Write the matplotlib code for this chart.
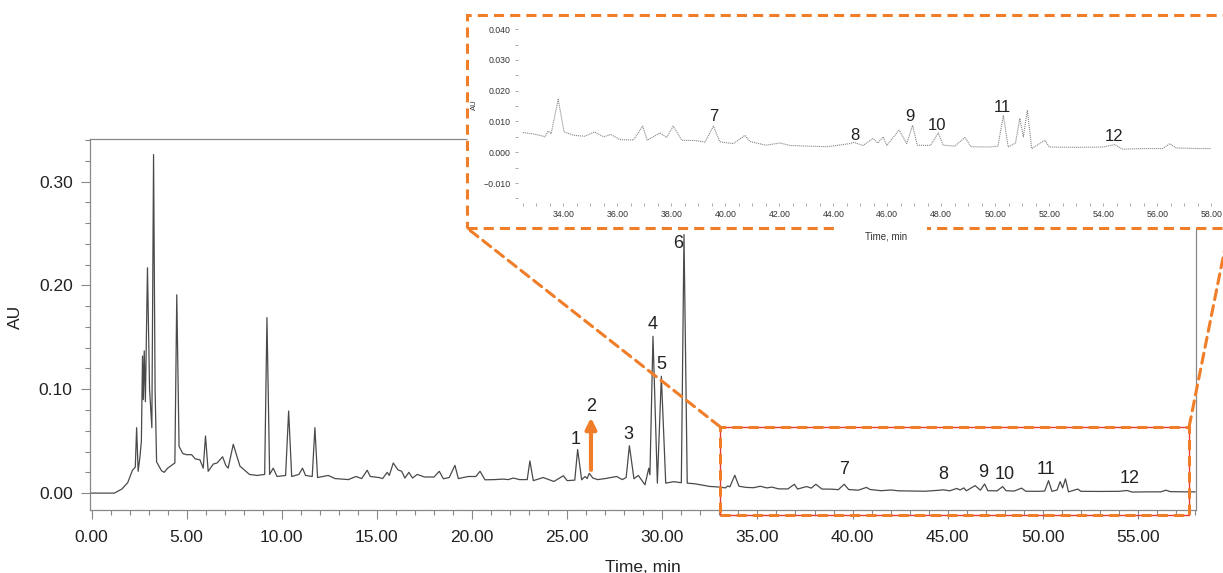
import numpy as np
import matplotlib.pyplot as plt
from matplotlib.patches import Rectangle, ConnectionPatch
from matplotlib.ticker import MultipleLocator, FuncFormatter

plt.rcParams['font.family'] = ['Liberation Sans', 'DejaVu Sans']

# chromatogram (time in min, absorbance in AU)
time_min = [0.0, 1.2, 1.6, 1.9, 2.15, 2.3, 2.37, 2.45, 2.54, 2.62, 2.68, 2.72, 2.77, 2.83, 2.94,
            3.05, 3.17, 3.26, 3.34, 3.42, 3.68, 3.82, 4.0, 4.38, 4.48, 4.6, 4.8, 5.0, 5.26, 5.45,
            5.7, 5.87, 5.99, 6.13, 6.4, 6.6, 6.89, 7.05, 7.18, 7.45, 7.8, 8.3, 8.7, 9.1, 9.22,
            9.36, 9.55, 9.75, 10.2, 10.36, 10.52, 10.9, 11.09, 11.25, 11.6, 11.74, 11.88, 12.44,
            12.8, 13.5, 13.9, 14.2, 14.49, 14.65, 15.1, 15.3, 15.54, 15.65, 15.86, 16.1, 16.3,
            16.47, 16.68, 16.87, 17.12, 17.5, 18.0, 18.28, 18.49, 18.8, 19.1, 19.28, 19.8, 20.2,
            20.42, 20.68, 21.2, 21.64, 21.9, 22.17, 22.5, 22.9, 23.04, 23.22, 23.74, 24.3, 24.8,
            25.0, 25.4, 25.55, 25.76, 25.94, 26.05, 26.16, 26.35, 26.6, 27.0, 27.3, 27.6, 27.9,
            28.1, 28.27, 28.51, 28.74, 29.09, 29.29, 29.35, 29.51, 29.74, 29.95, 30.18, 30.6,
            31.0, 31.14, 31.31, 31.7, 32.0, 32.5, 32.86, 33.14, 33.32, 33.44, 33.55, 33.81, 34.03,
            34.4, 34.8, 35.15, 35.5, 35.76, 36.1, 36.6, 36.94, 37.11, 37.58, 37.83, 38.07, 38.39,
            38.9, 39.25, 39.56, 39.8, 40.3, 40.73, 40.91, 41.5, 42.03, 42.4, 43.0, 43.8, 44.6,
            44.77, 45.1, 45.48, 45.65, 45.85, 45.98, 46.44, 46.72, 46.94, 47.11, 47.6, 47.89,
            48.07, 48.5, 48.88, 49.1, 49.8, 50.1, 50.3, 50.48, 50.75, 50.91, 51.04, 51.19, 51.35,
            51.84, 52.0, 53.0, 54.0, 54.43, 54.7, 55.5, 56.2, 56.47, 56.7, 57.5, 58.0]
absorb = [0.0, 0.0, 0.004, 0.010, 0.022, 0.025, 0.063, 0.021, 0.034, 0.050, 0.132, 0.090, 0.137,
          0.088, 0.217, 0.100, 0.063, 0.326, 0.100, 0.030, 0.0215, 0.020, 0.024, 0.029, 0.191,
          0.045, 0.038, 0.037, 0.037, 0.033, 0.032, 0.024, 0.055, 0.021, 0.028, 0.029, 0.035,
          0.027, 0.024, 0.047, 0.026, 0.018, 0.017, 0.018, 0.169, 0.018, 0.024, 0.016, 0.017,
          0.079, 0.016, 0.018, 0.024, 0.017, 0.016, 0.063, 0.015, 0.017, 0.014, 0.013, 0.016,
          0.014, 0.022, 0.016, 0.015, 0.014, 0.020, 0.017, 0.029, 0.0225, 0.021, 0.0145, 0.020,
          0.0145, 0.018, 0.0155, 0.0155, 0.021, 0.0138, 0.015, 0.0267, 0.014, 0.016, 0.016, 0.021,
          0.0128, 0.013, 0.0135, 0.013, 0.0145, 0.013, 0.013, 0.031, 0.012, 0.015, 0.0112, 0.0167,
          0.012, 0.0125, 0.042, 0.0128, 0.016, 0.014, 0.019, 0.0145, 0.013, 0.014, 0.015, 0.016,
          0.013, 0.015, 0.0456, 0.0138, 0.017, 0.008, 0.024, 0.0177, 0.151, 0.0096, 0.1125,
          0.0096, 0.011, 0.010, 0.249, 0.0096, 0.009, 0.008, 0.0064, 0.0060, 0.0055, 0.0050,
          0.0069, 0.0060, 0.0172, 0.0066, 0.0055, 0.0052, 0.0066, 0.0050, 0.0058, 0.0041, 0.0040,
          0.0085, 0.0039, 0.0063, 0.0048, 0.0085, 0.0039, 0.0038, 0.0033, 0.0085, 0.0034, 0.0028,
          0.0055, 0.0035, 0.0023, 0.0030, 0.0022, 0.0020, 0.0018, 0.0028, 0.0032, 0.0022, 0.0045,
          0.0030, 0.0050, 0.0022, 0.0072, 0.0028, 0.0088, 0.0023, 0.0022, 0.0063, 0.0023, 0.0020,
          0.0048, 0.0018, 0.0017, 0.0020, 0.0120, 0.0017, 0.0030, 0.0110, 0.0050, 0.0137, 0.0012,
          0.0039, 0.0017, 0.0016, 0.0017, 0.0025, 0.0010, 0.0012, 0.0012, 0.0028, 0.0014, 0.0012,
          0.0012]

peak_ids = ['1', '2', '3', '4', '5', '6', '7', '8', '9', '10', '11', '12']
label_t = [25.46, 26.25, 28.2, 29.51, 29.93, 30.83, 39.55, 44.76, 46.86, 47.97, 50.17, 54.54]
label_au = [0.0514, 0.0832, 0.0563, 0.1625, 0.124, 0.2404, 0.0225, 0.0177, 0.0196, 0.0177,
            0.0225, 0.0138]

inset_ids = ['7', '8', '9', '10', '11', '12']
inset_label_t = [39.56, 44.80, 46.84, 47.85, 50.26, 54.41]
inset_label_au = [0.0117, 0.0055, 0.0117, 0.0088, 0.0147, 0.0050]

arrow_t = 26.25
arrow_au = (0.0224, 0.0727)

zoom_t = (33.03, 57.69)
zoom_au = (-0.021, 0.064)

orange = '#F07D28'
dash = (0, (3.3, 2.0))

fig = plt.figure(figsize=(12.23, 5.73), dpi=100)
ax = fig.add_axes([0.0736, 0.1099, 0.9043, 0.6475])
ax.plot(time_min, absorb, color='#4a4a4a', lw=0.9)
ax.set_xlim(-0.08, 58.05)
ax.set_ylim(-0.0163, 0.341)
ax.xaxis.set_major_locator(MultipleLocator(5))
ax.xaxis.set_minor_locator(MultipleLocator(1))
ax.yaxis.set_major_locator(MultipleLocator(0.1))
ax.yaxis.set_minor_locator(MultipleLocator(0.02))
ax.xaxis.set_major_formatter(FuncFormatter(lambda v, p: '%.2f' % v))
ax.yaxis.set_major_formatter(FuncFormatter(lambda v, p: '%.2f' % v))
ax.tick_params(which='major', length=6.5, width=0.8, color='#888', labelsize=12.5, labelcolor='#222')
ax.tick_params(axis='x', which='major', pad=8)
ax.tick_params(axis='y', which='major', pad=6)
ax.tick_params(which='minor', length=3.6, width=0.8, color='#888')
for s in ax.spines.values():
    s.set_color('#888')
    s.set_linewidth(0.9)
ax.set_xlabel('Time, min', fontsize=12.5, color='#222')
ax.set_ylabel('AU', fontsize=12.5, color='#222')
ax.xaxis.set_label_coords(0.5, -0.135)
ax.yaxis.set_label_coords(-0.061, 0.52)

for i in range(len(peak_ids)):
    ax.text(label_t[i], label_au[i], peak_ids[i], fontsize=13, ha='center', va='center', color='#222')
ax.annotate('', xy=(arrow_t, arrow_au[1]), xytext=(arrow_t, arrow_au[0]),
            arrowprops=dict(arrowstyle='-|>', lw=3, color=orange, mutation_scale=16, shrinkA=0, shrinkB=0))

# zoomed region marker
ax.add_patch(Rectangle((zoom_t[0], zoom_au[0]), zoom_t[1] - zoom_t[0], zoom_au[1] - zoom_au[0],
                       fill=False, ec='#E63B2E', lw=1.0, clip_on=False, zorder=3))
ax.add_patch(Rectangle((zoom_t[0], zoom_au[0]), zoom_t[1] - zoom_t[0], zoom_au[1] - zoom_au[0],
                       fill=False, ec=orange, lw=2.2, ls=dash, clip_on=False, zorder=3))

# inset frame
bx, by, bw, bh = 0.3818, 0.6021, 0.6231, 0.3717
fig.add_artist(Rectangle((bx, by), bw, bh, transform=fig.transFigure, fc='white', ec=orange,
                         lw=2.2, ls=dash, zorder=2))
fig.add_artist(Rectangle((840 / 1223, 1 - 234 / 573), 87 / 1223, 10 / 573, transform=fig.transFigure,
                         fc='white', ec='none', zorder=2.5))
for pa, pb in [((zoom_t[0], zoom_au[1]), (bx, by)), ((zoom_t[1], zoom_au[1]), (bx + bw, by))]:
    fig.add_artist(ConnectionPatch(xyA=pa, coordsA=ax.transData, xyB=pb, coordsB=fig.transFigure,
                                   color=orange, lw=2.2, ls=dash, zorder=2))

axin = fig.add_axes([0.4235, 0.6457, 0.5715, 0.3141], zorder=3)
axin.patch.set_alpha(0)
t_arr = np.array(time_min)
a_arr = np.array(absorb)
sel = t_arr >= 32.5
axin.plot(t_arr[sel], a_arr[sel], color='#888', lw=0.8, ls=(0, (1, 0.8)))
axin.set_xlim(32.32, 58.21)
axin.set_ylim(-0.0165, 0.042)
for s in axin.spines.values():
    s.set_visible(False)
axin.xaxis.set_major_locator(MultipleLocator(2))
axin.xaxis.set_minor_locator(MultipleLocator(0.5))
axin.yaxis.set_major_locator(MultipleLocator(0.01))
axin.yaxis.set_minor_locator(MultipleLocator(0.005))
axin.xaxis.set_major_formatter(FuncFormatter(lambda v, p: '%.2f' % v))
axin.yaxis.set_major_formatter(FuncFormatter(lambda v, p: ('%.3f' % v).replace('-', '\u2212')))
axin.tick_params(which='both', length=2.2, width=0.7, color='#aaa', labelsize=6.3, labelcolor='#333', pad=3)
axin.set_ylabel('AU', fontsize=5.5, color='#333')
axin.yaxis.set_label_coords(-0.057, 0.544)
axin.set_xlabel('Time, min', fontsize=7, color='#333')
axin.xaxis.set_label_coords(0.5265, -0.156)
for i in range(len(inset_ids)):
    axin.text(inset_label_t[i], inset_label_au[i], inset_ids[i], fontsize=12, ha='center', va='center', color='#222')

fig.savefig('out.png', dpi=100)
